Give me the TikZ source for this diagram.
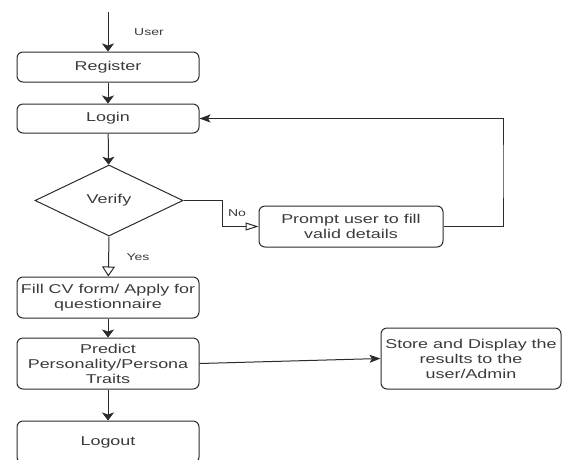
\documentclass[tikz,border=0pt]{standalone}
\usepackage{fontspec}
\setmainfont[FakeStretch=1.4]{Liberation Sans}
\usetikzlibrary{shapes.geometric,arrows.meta}
\definecolor{inkgray}{HTML}{2B2B2B}
\definecolor{textgray}{HTML}{3A3A3A}
\begin{document}
\begin{tikzpicture}[x=1pt,y=-1pt,font=\fontsize{12.8}{15}\selectfont]
\tikzset{
% boxes and the decision of the flow chart
process/.style={rectangle,draw=inkgray,line width=1pt,rounded corners=6,text=textgray,align=center,inner sep=0,minimum width=182,minimum height=30},
decision/.style={diamond,draw=inkgray,line width=1pt,text=textgray,inner sep=0,minimum width=148,minimum height=71},
tag/.style={text=textgray,font=\fontsize{10}{12}\selectfont,inner sep=0},
% connectors: filled and hollow tips, down and sideways
flow/.style={draw=inkgray,line width=1pt},
downtip/.style={flow,-{Stealth[length=8,width=12,inset=2]}},
sidetip/.style={flow,-{Stealth[length=11,width=8,inset=2.5]}},
downopen/.style={flow,-{Triangle[open,length=10,width=13]}},
sideopen/.style={flow,-{Triangle[open,length=13,width=8]}}
}
\useasboundingbox (0,0) rectangle (562,459);

% The boxes
\node(register)[process] at (108,67) {Register};
\node(login)[process,minimum height=29] at (108,118.5) {Login};
\node(verify)[decision] at (109,200.5) {Verify};
\node(prompt)[process,minimum width=184,minimum height=41] at (351,226.5) {Prompt user to fill\\valid details};
\node(fill)[process,minimum height=41] at (108,297.5) {Fill CV form/ Apply for\\questionnaire};
\node(predict)[process,minimum height=51] at (108,363.5) {Predict\\Personality/Persona\\Traits};
\node(logout)[process,minimum height=42] at (108,442) {Logout};
\node(store)[process,minimum width=180,minimum height=61] at (471,358.5) {Store and Display the\\results to the\\user/Admin};

% labels on the connectors
\node(user)[tag] at (149,32) {User};
\node(no)[tag] at (237,213) {No};
\node(yes)[tag] at (138,257) {Yes};

% The connectors
\coordinate(start) at (108,12);
\coordinate(nobend) at (222,200.5);
\coordinate(loop) at (503,170);
\draw[downtip] (start) -- (register);
\draw[downtip] (register) -- (login);
\draw[downtip] (login) -- (verify);
\draw[sideopen] (verify.east) -- (nobend) |- (prompt.west);
\draw[sidetip] (prompt.east) -| (loop) |- (login.east);
\draw[downopen] (verify.south) -- (fill);
\draw[downtip] (fill) -- (predict);
\draw[downtip] (predict) -- (logout);
\draw[sidetip] (predict.east) -- (store.west);
\end{tikzpicture}
\end{document}
